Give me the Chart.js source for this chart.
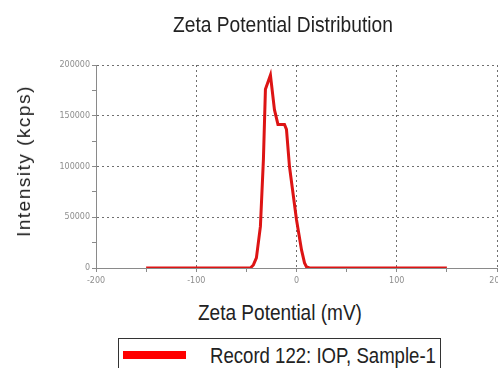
<!DOCTYPE html>
<html>
<head>
<meta charset="utf-8">
<script src="https://cdn.jsdelivr.net/npm/chart.js@4.4.1/dist/chart.umd.min.js"></script>
<style>
  html, body { margin: 0; padding: 0; background: #fff; overflow: hidden; width: 498px; height: 368px; }
  #wrap { position: relative; width: 498px; height: 368px; overflow: hidden; }
  #plot { position: absolute; left: 0; top: 0; }
  /* narrow, tall lettering of the original: Liberation Sans squeezed horizontally */
  .txt { position: absolute; white-space: nowrap; color: #222; line-height: 23px;
         font-family: 'Liberation Sans', Arial, sans-serif; font-size: 22px;
         transform-origin: 0 50%; }
  #ytitle { position: absolute; left: 24px; top: 161px; white-space: nowrap; color: #222;
            font-family: 'Liberation Sans', Arial, sans-serif; font-size: 19px; letter-spacing: 1.5px;
            transform: translate(-50%, -50%) rotate(-90deg); }
  #legend { position: absolute; left: 118px; top: 338px; width: 321px; height: 40px; border: 1px solid #333; }
  #swatch { position: absolute; left: 4px; top: 12px; width: 63px; height: 8px; background: #ff0000; }
</style>
</head>
<body>
<div id="wrap">
  <canvas id="plot" width="510" height="300"></canvas>
  <div class="txt" style="left:173px; top:13px; transform:scaleX(0.873);">Zeta Potential Distribution</div>
  <div id="ytitle">Intensity (kcps)</div>
  <div class="txt" style="left:198px; top:301px; transform:scaleX(0.865);">Zeta Potential (mV)</div>
  <div id="legend"><div id="swatch"></div><div class="txt" style="left:91px; top:5px; transform:scaleX(0.845);">Record 122: IOP, Sample-1</div></div>
</div>
<script>
/* ── Data ── */
var seriesName = 'Record 122: IOP, Sample-1';
var zetaMv    = [-150, -46, -43, -40, -36, -33, -31, -26, -22, -18.5, -12, -10, -7, 0, 5, 8, 10, 13, 150];
var intensity = [0, 0, 3000, 10000, 41000, 107000, 176000, 190000, 156000, 141500, 141500, 136500, 100000, 47500, 17800, 5000, 1000, 0, 0];
var xTicks = { min: -200, max: 200, step: 50, labelEvery: 100 };
var yTicks = { min: 0, max: 200000, step: 25000, labelEvery: 50000 };

var points = zetaMv.map(function(x, i) { return { x: x, y: intensity[i] }; });

// dotted grid only on the labelled ticks; minor ticks keep just their tick mark
function gridColor(every, skipZero) {
  return function(ctx) {
    if (!ctx.tick || (skipZero && ctx.tick.value === 0)) return 'transparent';
    return ctx.tick.value % every === 0 ? '#6f6f6f' : 'transparent';
  };
}

new Chart(document.getElementById('plot'), {
  type: 'line',
  data: {
    datasets: [{
      label: seriesName,
      data: points,
      borderColor: '#dd1414',
      borderWidth: 3,
      pointRadius: 0,
      tension: 0
    }]
  },
  options: {
    responsive: false,
    animation: false,
    layout: { padding: { top: 65, left: 8, right: 13, bottom: 0 } },
    plugins: { legend: { display: false }, tooltip: { enabled: false } },
    scales: {
      x: {
        type: 'linear',
        min: xTicks.min, max: xTicks.max,
        afterFit: function(s) { s.height = 32; },
        border: { color: '#8a8a8a', dash: [2, 3] },
        grid: { color: gridColor(xTicks.labelEvery, false), tickColor: '#8a8a8a', tickLength: 4 },
        ticks: {
          stepSize: xTicks.step, autoSkip: false, maxRotation: 0, padding: 4,
          color: '#8d8d8d', font: { family: 'DejaVu Sans', size: 8 },
          callback: function(v) { return v % xTicks.labelEvery === 0 ? v : ''; }
        }
      },
      y: {
        min: yTicks.min, max: yTicks.max,
        afterFit: function(s) { s.width = 88; },
        border: { color: '#8a8a8a', dash: [2, 3] },
        grid: { color: gridColor(yTicks.labelEvery, true), tickColor: '#8a8a8a', tickLength: 4 },
        ticks: {
          stepSize: yTicks.step, autoSkip: false, padding: 2,
          color: '#8d8d8d', font: { family: 'DejaVu Sans', size: 8 },
          callback: function(v) { return v % yTicks.labelEvery === 0 ? v : ''; }
        }
      }
    }
  }
});
</script>
</body>
</html>
